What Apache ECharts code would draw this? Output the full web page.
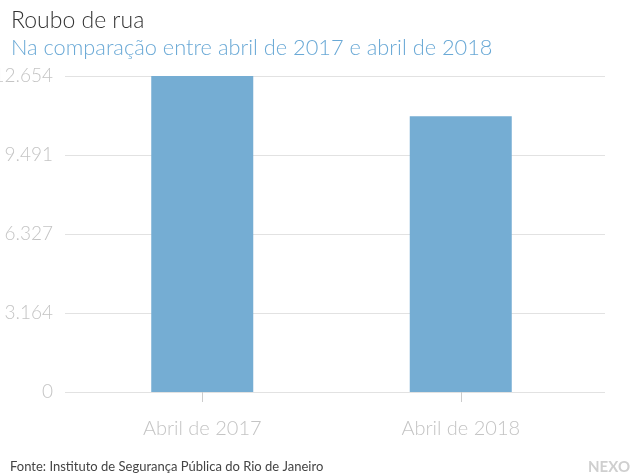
<!DOCTYPE html>
<html><head><meta charset="utf-8">
<script src="https://cdn.jsdelivr.net/npm/echarts@6/dist/echarts.min.js"></script>
<style>html,body{margin:0;padding:0;background:#fff}#c{width:640px;height:475px}</style>
</head><body><div id="c"></div>
<script>
const categories = ['Abril de 2017', 'Abril de 2018'];
const values = [12654, 11044];
const yMax = 12654;
const yTickLabels = ['0', '3.164', '6.327', '9.491', '12.654'];

const FONT = 'Lato';
const chart = echarts.init(document.getElementById('c'), null, {renderer: 'canvas'});
const interval = yMax / 4;
chart.setOption({
  animation: false,
  backgroundColor: '#fff',
  title: [
    {text: 'Roubo de rua', left: 6, top: 4, textStyle: {fontFamily: FONT, fontWeight: 300, fontSize: 23, color: '#333'}},
    {text: 'Na comparação entre abril de 2017 e abril de 2018', left: 6, top: 32, textStyle: {fontFamily: FONT, fontWeight: 300, fontSize: 21.8, color: '#6aa9d6'}},
    {text: 'Fonte: Instituto de Segurança Pública do Rio de Janeiro', left: 5, top: 455, textStyle: {fontFamily: FONT, fontWeight: 400, fontSize: 13, color: '#444'}},
    {text: 'NEXO', right: 5, top: 455, textStyle: {fontFamily: FONT, fontWeight: 'bold', fontSize: 15, color: '#cfcfcf'}}
  ],
  grid: [
    {left: 73, right: 50, top: 76, bottom: 83, outerBoundsMode: 'none', containLabel: false},
    {left: 65, right: 35, top: 76, bottom: 83, outerBoundsMode: 'none', containLabel: false}
  ],
  xAxis: [
    {type: 'category', gridIndex: 0, data: categories,
     axisLine: {show: false},
     axisTick: {show: true, alignWithLabel: true, length: 10, lineStyle: {color: '#ccc'}, inside: false},
     axisLabel: {margin: 27, fontFamily: FONT, fontWeight: 300, fontSize: 20, color: '#c4c4c4'}},
    {type: 'value', gridIndex: 1, show: false, min: 0, max: 1}
  ],
  yAxis: [
    {type: 'value', gridIndex: 0, min: 0, max: yMax, interval: interval, show: false, splitLine: {show: false}},
    {type: 'value', gridIndex: 1, min: 0, max: yMax, interval: interval,
     axisLine: {show: false}, axisTick: {show: false},
     splitLine: {show: true, lineStyle: {color: '#e2e2e2', width: 1}},
     axisLabel: {margin: 12, fontFamily: FONT, fontWeight: 300, fontSize: 19, color: '#c4c4c4',
       formatter: (v) => yTickLabels[Math.round(v / interval)] ?? ''}}
  ],
  series: [{
    type: 'bar', xAxisIndex: 0, yAxisIndex: 0, data: values, barWidth: 102,
    itemStyle: {color: '#75add3'}
  }]
});
</script></body></html>
